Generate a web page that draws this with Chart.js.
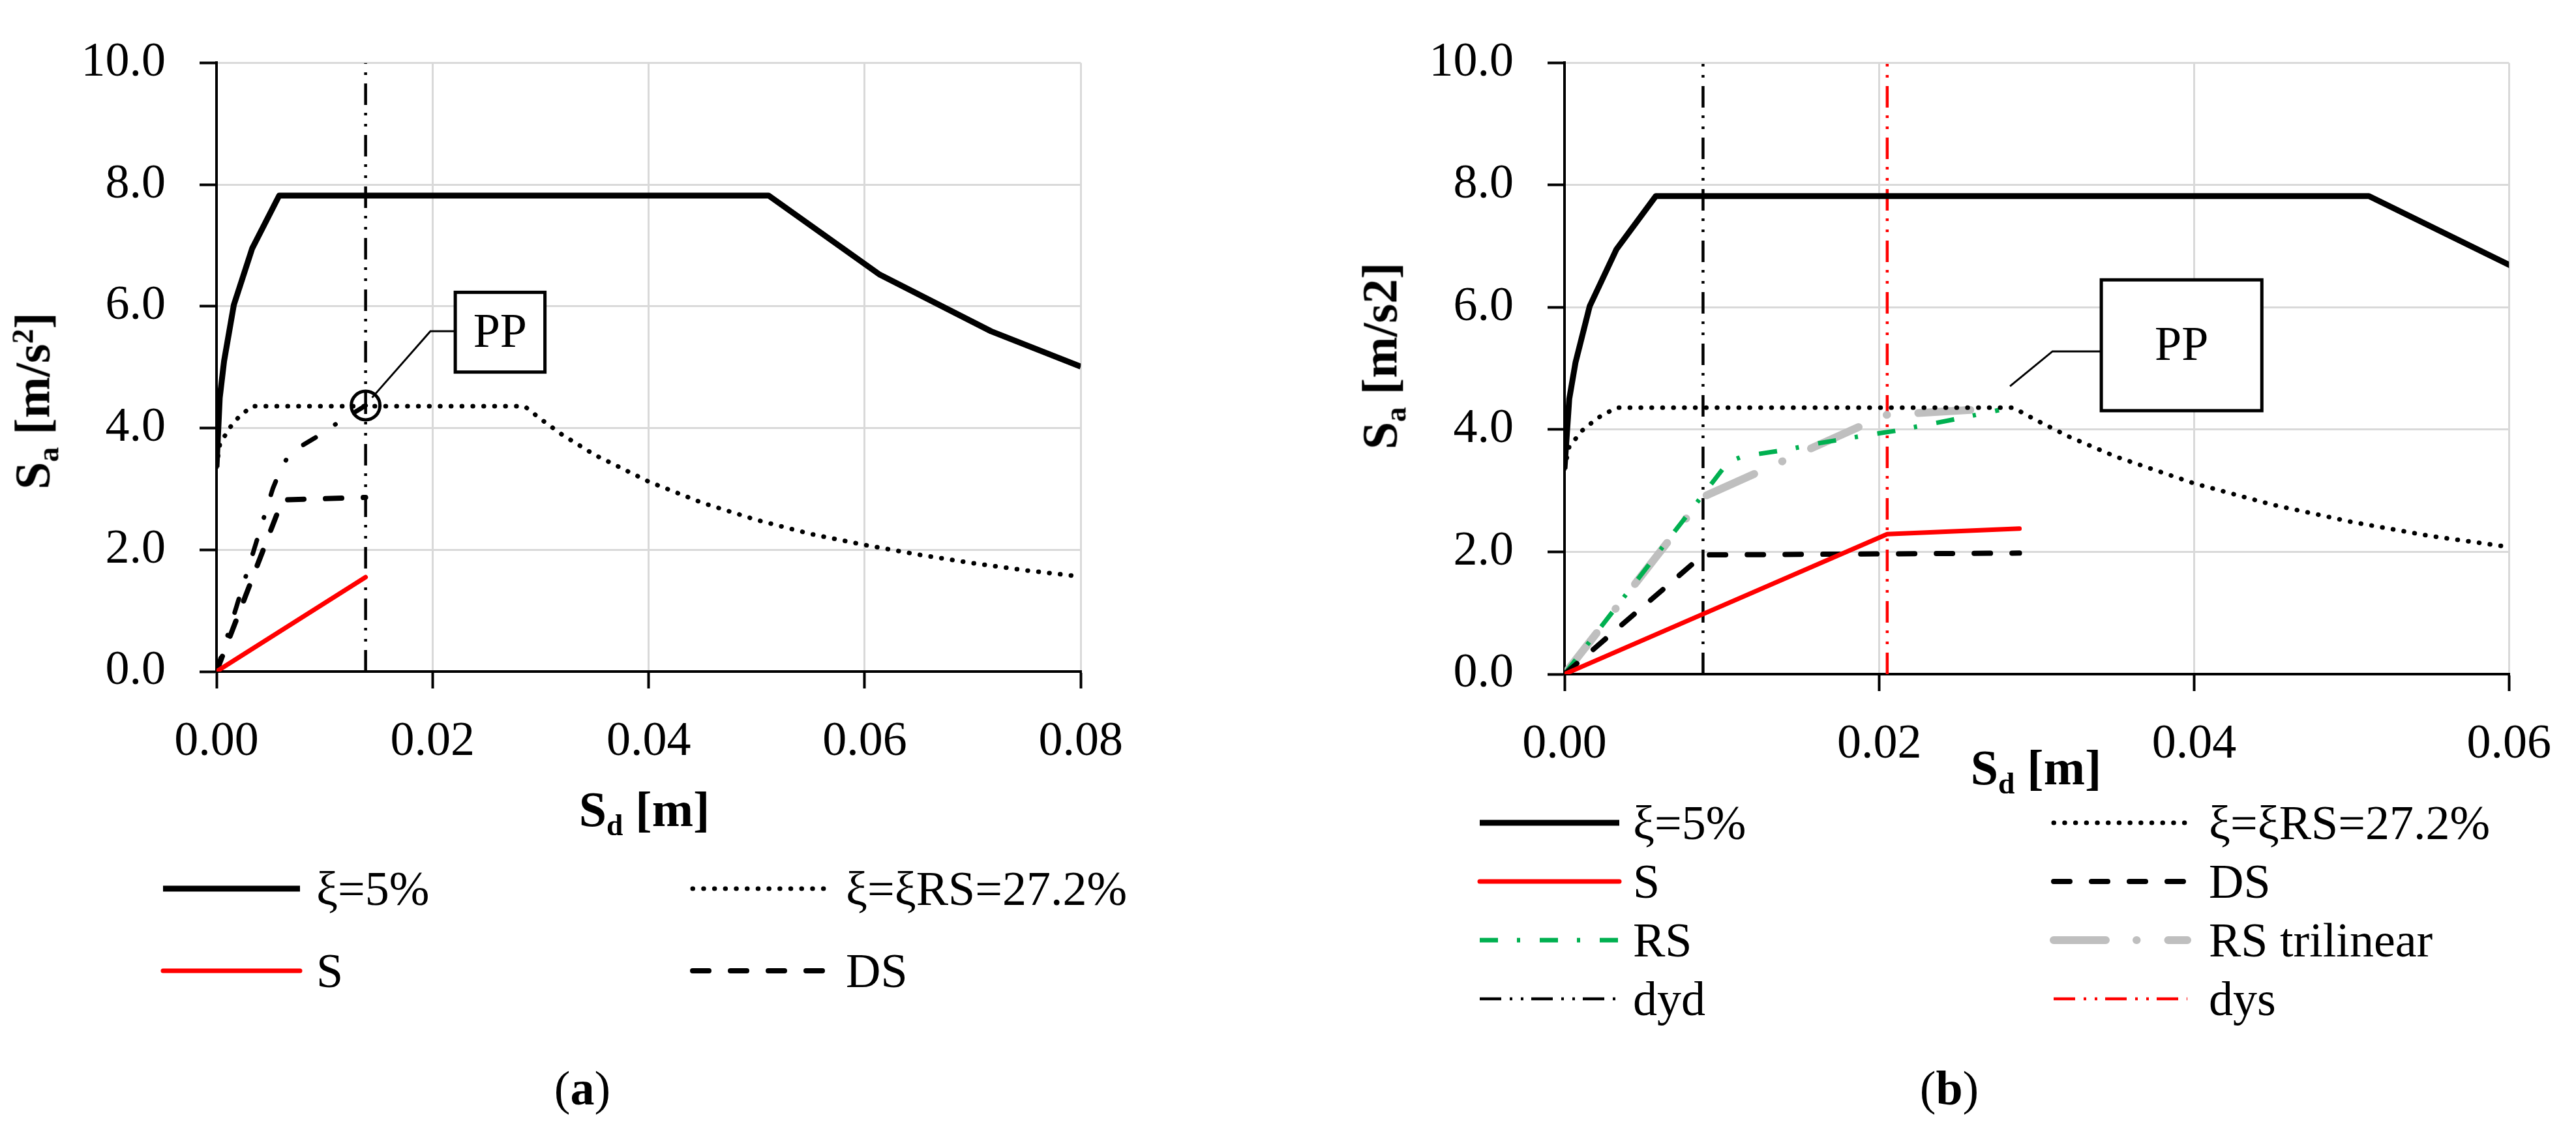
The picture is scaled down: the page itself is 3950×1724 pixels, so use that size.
<!DOCTYPE html>
<html>
<head>
<meta charset="utf-8">
<script src="https://cdn.jsdelivr.net/npm/chart.js@4.4.1/dist/chart.umd.min.js"></script>
<style>
html, body { margin: 0; padding: 0; background: #fff; }
#page { position: relative; width: 3950px; height: 1724px; background: #fff; font-family: "Liberation Serif", serif; color: #000; overflow: hidden; }
canvas { position: absolute; }
.t { position: absolute; white-space: nowrap; line-height: 1; }
.ytitle { font-weight: bold; font-size: 76px; transform: translate(-50%, -50%) rotate(-90deg); }
.xtitle { font-weight: bold; font-size: 76px; transform: translate(-50%, -50%); }
.leg { font-size: 74px; transform: translateY(-50%); }
.cap { font-size: 74px; transform: translate(-50%, -50%); }
sub { font-size: 60%; vertical-align: -0.3em; }
sup { font-size: 60%; vertical-align: 0.55em; }
svg { position: absolute; overflow: visible; }
</style>
</head>
<body>
<div id="page">
  <canvas id="chartA" width="1760" height="1200" style="left:0;top:0"></canvas>
  <canvas id="chartB" width="2000" height="1200" style="left:1950px;top:0"></canvas>

  <div class="t ytitle" style="left:54px;top:615px">S<sub>a</sub> [m/s<sup>2</sup>]</div>
  <div class="t xtitle" style="left:988px;top:1246px">S<sub>d</sub> [m]</div>
  <div class="t ytitle" style="left:2120px;top:546px">S<sub>a</sub> [m/s2]</div>
  <div class="t xtitle" style="left:3122px;top:1182px">S<sub>d</sub> [m]</div>

  <div class="t cap" style="left:893px;top:1669px">(<b>a</b>)</div>
  <div class="t cap" style="left:2989px;top:1669px">(<b>b</b>)</div>
</div>

<script>
// tick values
const yTicks = [0, 2, 4, 6, 8, 10]
const xTicksA = [0, 0.02, 0.04, 0.06, 0.08]
const xTicksB = [0, 0.02, 0.04, 0.06]

// elastic spectrum xi = 5%
const sd5 = [0, 0.0003, 0.0007, 0.0016, 0.0033, 0.0058, 0.0511, 0.0614, 0.0717, 0.08]
const sa5 = [3.36, 4.5, 5.1, 6.02, 6.95, 7.82, 7.82, 6.52, 5.59, 5.01]

// reduced spectrum xi = xiRS = 27.2%
const sdRed = [0, 0.0003, 0.0011, 0.0021, 0.0033, 0.0285, 0.030, 0.032, 0.035, 0.040, 0.045, 0.050, 0.055, 0.060, 0.065, 0.070, 0.075, 0.080]
const saRed = [3.36, 3.72, 3.98, 4.19, 4.36, 4.36, 4.15, 3.89, 3.56, 3.12, 2.77, 2.49, 2.26, 2.08, 1.92, 1.78, 1.66, 1.56]

// panel (a)
const sdS_A = [0, 0.0138]
const saS_A = [0, 1.55]
const sdDS_A = [0, 0.0061, 0.0138]
const saDS_A = [0, 2.82, 2.86]
const sdRS_A = [0, 0.0052, 0.006, 0.0068, 0.008, 0.0095, 0.011, 0.0127, 0.0138]
const saRS_A = [0, 3.0, 3.35, 3.58, 3.72, 3.88, 4.06, 4.25, 4.37]
const dyA = 0.0138
const ppA = [0.0138, 4.37]

// panel (b)
const sdS_B = [0, 0.0205, 0.0289]
const saS_B = [0, 2.29, 2.38]
const sdDS_B = [0, 0.0088, 0.0289]
const saDS_B = [0, 1.95, 1.98]
const sdRS_B = [0, 0.0104, 0.0112, 0.012, 0.0141, 0.0162, 0.019, 0.021, 0.023, 0.025, 0.0276]
const saRS_B = [0, 3.47, 3.55, 3.59, 3.67, 3.78, 3.9, 3.98, 4.08, 4.18, 4.32]
const sdTri_B = [0, 0.0088, 0.0204, 0.0276]
const saTri_B = [0, 2.9, 4.24, 4.35]
const dyd = 0.0088
const dys = 0.0205

// line styles
const st = {
  xi5:   { color: '#000000', width: 9, dash: [], cap: 'butt' },
  red:   { color: '#000000', width: 7, dash: [0.5, 16.2], cap: 'round' },
  S:     { color: '#ff0000', width: 7, dash: [], cap: 'round' },
  DS:    { color: '#000000', width: 8, dash: [25, 33], cap: 'round' },
  RSa:   { color: '#000000', width: 7, dash: [22, 36, 0.5, 36], cap: 'round' },
  RS:    { color: '#00b050', width: 7, dash: [28, 29, 5, 30], cap: 'butt' },
  tri:   { color: '#bfbfbf', width: 12, dash: [80, 47, 0.5, 48], cap: 'round' },
  dyd:   { color: '#000000', width: 4.5, dash: [33, 13, 4, 13, 4, 12], cap: 'butt' },
  dys:   { color: '#ff0000', width: 4.5, dash: [33, 13, 4, 13, 4, 12], cap: 'butt' }
}

function pts(xs, ys) { return xs.map((x, i) => ({ x: x, y: ys[i] })) }
function vline(x) { return [{ x: x, y: yTicks[0] }, { x: x, y: yTicks[yTicks.length - 1] }] }

function ds(label, data, s) {
  return {
    label: label, data: data,
    borderColor: s.color, borderWidth: s.width, borderDash: s.dash,
    borderCapStyle: s.cap, borderJoinStyle: 'round',
    pointRadius: 0, fill: false, tension: 0
  }
}

// PP label box with leader line
const ppNote = {
  id: 'ppNote',
  afterDatasetsDraw(chart, args, o) {
    if (!o.box) return
    const ctx = chart.ctx, x = chart.scales.x, y = chart.scales.y
    const px = v => x.getPixelForValue(v), py = v => y.getPixelForValue(v)
    ctx.save()
    ctx.strokeStyle = '#000'
    ctx.lineWidth = 3
    ctx.beginPath()
    o.leader.forEach((p, i) => i ? ctx.lineTo(px(p[0]), py(p[1])) : ctx.moveTo(px(p[0]), py(p[1])))
    ctx.stroke()
    const x0 = px(o.box[0]), x1 = px(o.box[1]), y0 = py(o.box[2]), y1 = py(o.box[3])
    ctx.fillStyle = '#fff'
    ctx.fillRect(x0, y0, x1 - x0, y1 - y0)
    ctx.lineWidth = 5
    ctx.strokeRect(x0, y0, x1 - x0, y1 - y0)
    ctx.fillStyle = '#000'
    ctx.font = '74px "Liberation Serif"'
    ctx.textAlign = 'center'
    ctx.textBaseline = 'middle'
    ctx.fillText('PP', (x0 + x1) / 2, (y0 + y1) / 2 + 3)
    ctx.restore()
  }
}

function makeChart(id, datasets, xMax, xTicks, yWidth, xHeight, pad, note) {
  const font = { family: 'Liberation Serif', size: 74 }
  return new Chart(document.getElementById(id), {
    type: 'line',
    data: { datasets: datasets },
    plugins: [ppNote],
    options: {
      responsive: false, animation: false, devicePixelRatio: 1, events: [],
      layout: { padding: pad },
      plugins: { legend: { display: false }, tooltip: { enabled: false }, ppNote: note },
      scales: {
        x: {
          type: 'linear', min: 0, max: xMax,
          afterBuildTicks: s => { s.ticks = xTicks.map(v => ({ value: v })) },
          afterFit: s => { s.height = xHeight },
          grid: { color: '#d9d9d9', lineWidth: 3, tickLength: 26, tickColor: '#000', tickWidth: 4 },
          border: { color: '#000', width: 4 },
          ticks: { color: '#000', font: font, padding: 38, maxRotation: 0, autoSkip: false, callback: v => v.toFixed(2) }
        },
        y: {
          type: 'linear', min: 0, max: 10,
          afterBuildTicks: s => { s.ticks = yTicks.map(v => ({ value: v })) },
          afterFit: s => { s.width = yWidth },
          grid: { color: '#d9d9d9', lineWidth: 3, tickLength: 26, tickColor: '#000', tickWidth: 4 },
          border: { color: '#000', width: 4 },
          ticks: { color: '#000', font: font, padding: 52, callback: v => v.toFixed(1) }
        }
      }
    }
  })
}

const ppDataset = {
  label: 'PP', data: [{ x: ppA[0], y: ppA[1] }], showLine: false,
  pointRadius: 22, pointBorderWidth: 5, pointBorderColor: '#000',
  pointBackgroundColor: 'rgba(0,0,0,0)', pointStyle: 'circle'
}

makeChart('chartA', [
  ppDataset,
  ds('ξ=5%', pts(sd5, sa5), st.xi5),
  ds('ξ=ξRS=27.2%', pts(sdRed, saRed), st.red),
  ds('S', pts(sdS_A, saS_A), st.S),
  ds('DS', pts(sdDS_A, saDS_A), st.DS),
  ds('RS', pts(sdRS_A, saRS_A), st.RSa),
  ds('dy', vline(dyA), st.dyd)
], 0.08, xTicksA, 332, 170, { left: 0, top: 50, right: 76, bottom: 0 },
  { box: [0.0221, 0.0304, 6.23, 4.92], leader: [[0.0144, 4.5], [0.0198, 5.59], [0.0221, 5.59]] })

makeChart('chartB', [
  ds('ξ=5%', pts(sd5, sa5), st.xi5),
  ds('ξ=ξRS=27.2%', pts(sdRed, saRed), st.red),
  ds('S', pts(sdS_B, saS_B), st.S),
  ds('DS', pts(sdDS_B, saDS_B), st.DS),
  ds('RS', pts(sdRS_B, saRS_B), st.RS),
  ds('RS trilinear', pts(sdTri_B, saTri_B), st.tri),
  ds('dyd', vline(dyd), st.dyd),
  ds('dys', vline(dys), st.dys)
], 0.06, xTicksB, 449, 166, { left: 0, top: 59, right: 87, bottom: 0 },
  { box: [0.0341, 0.0443, 6.45, 4.31], leader: [[0.0283, 4.71], [0.031, 5.28], [0.0341, 5.28]] })

// HTML legends
const page = document.getElementById('page')
function legendItem(label, s, lineX, lineLen, textX, rowY) {
  const ns = 'http://www.w3.org/2000/svg'
  const svg = document.createElementNS(ns, 'svg')
  svg.setAttribute('width', lineLen)
  svg.setAttribute('height', 20)
  svg.style.left = lineX + 'px'
  svg.style.top = (rowY - 10) + 'px'
  const ln = document.createElementNS(ns, 'line')
  ln.setAttribute('x1', 0); ln.setAttribute('x2', lineLen)
  ln.setAttribute('y1', 10); ln.setAttribute('y2', 10)
  ln.setAttribute('stroke', s.color)
  ln.setAttribute('stroke-width', s.width)
  ln.setAttribute('stroke-linecap', s.cap)
  if (s.dash.length) ln.setAttribute('stroke-dasharray', s.dash.join(' '))
  svg.appendChild(ln)
  page.appendChild(svg)
  const tx = document.createElement('div')
  tx.className = 't leg'
  tx.style.left = textX + 'px'
  tx.style.top = rowY + 'px'
  tx.textContent = label
  page.appendChild(tx)
}

const legA = [['ξ=5%', st.xi5], ['ξ=ξRS=27.2%', st.red], ['S', st.S], ['DS', st.DS]]
const legB = [['ξ=5%', st.xi5], ['ξ=ξRS=27.2%', st.red], ['S', st.S], ['DS', st.DS],
              ['RS', st.RS], ['RS trilinear', st.tri], ['dyd', st.dyd], ['dys', st.dys]]
const rowsA = [1363, 1489]
const rowsB = [1262, 1352, 1442, 1532]

legA.forEach((it, i) => {
  const col = i % 2, row = Math.floor(i / 2)
  if (col === 0) legendItem(it[0], it[1], 250, 210, 485, rowsA[row])
  else legendItem(it[0], it[1], 1062, 204, 1297, rowsA[row])
})
legB.forEach((it, i) => {
  const col = i % 2, row = Math.floor(i / 2)
  if (col === 0) legendItem(it[0], it[1], 2269, 214, 2504, rowsB[row])
  else legendItem(it[0], it[1], 3149, 205, 3387, rowsB[row])
})
</script>
</body>
</html>
